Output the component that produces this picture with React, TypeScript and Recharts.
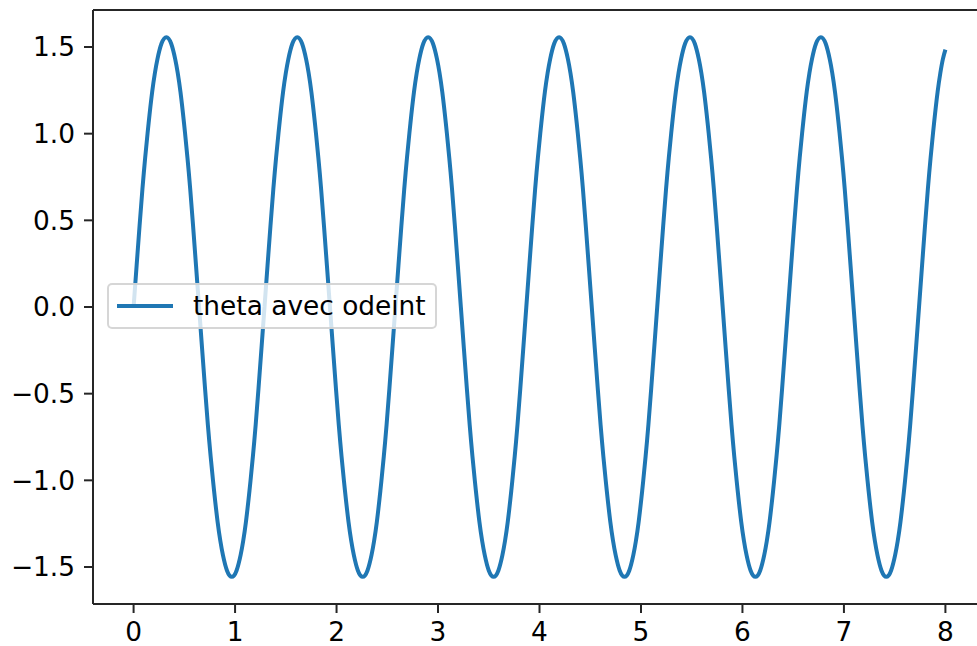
import React from "react";
import {
  LineChart,
  Line,
  XAxis,
  YAxis,
  Legend,
  ReferenceLine,
} from "recharts";

// angle theta (rad) against time (s)
// one row per half swing
const TIME = [
  0.0, 0.03, 0.059, 0.087, 0.114, 0.148, 0.183, 0.21, 0.235, 0.275, 0.323, 0.37, 0.41, 0.435, 0.462, 0.497, 0.531, 0.558, 0.586, 0.615,
  0.645, 0.675, 0.704, 0.732, 0.759, 0.793, 0.828, 0.855, 0.88, 0.92, 0.968, 1.015, 1.055, 1.08, 1.107, 1.142, 1.176, 1.203, 1.231, 1.26,
  1.29, 1.32, 1.349, 1.377, 1.404, 1.438, 1.473, 1.5, 1.525, 1.565, 1.613, 1.66, 1.7, 1.725, 1.752, 1.787, 1.821, 1.848, 1.876, 1.905,
  1.935, 1.965, 1.994, 2.022, 2.049, 2.083, 2.118, 2.145, 2.17, 2.21, 2.258, 2.305, 2.345, 2.37, 2.397, 2.432, 2.466, 2.493, 2.521, 2.55,
  2.58, 2.61, 2.639, 2.667, 2.694, 2.728, 2.763, 2.79, 2.815, 2.855, 2.903, 2.95, 2.99, 3.015, 3.042, 3.077, 3.111, 3.138, 3.166, 3.195,
  3.225, 3.255, 3.284, 3.312, 3.339, 3.373, 3.408, 3.435, 3.46, 3.5, 3.548, 3.595, 3.635, 3.66, 3.687, 3.722, 3.756, 3.783, 3.811, 3.84,
  3.87, 3.9, 3.929, 3.957, 3.984, 4.018, 4.053, 4.08, 4.105, 4.145, 4.193, 4.24, 4.28, 4.305, 4.332, 4.367, 4.401, 4.428, 4.456, 4.485,
  4.515, 4.545, 4.574, 4.602, 4.629, 4.663, 4.698, 4.725, 4.75, 4.79, 4.838, 4.885, 4.925, 4.95, 4.977, 5.012, 5.046, 5.073, 5.101, 5.13,
  5.16, 5.19, 5.219, 5.247, 5.274, 5.308, 5.343, 5.37, 5.395, 5.435, 5.483, 5.53, 5.57, 5.595, 5.622, 5.657, 5.691, 5.718, 5.746, 5.775,
  5.805, 5.835, 5.864, 5.892, 5.919, 5.953, 5.988, 6.015, 6.04, 6.08, 6.128, 6.175, 6.215, 6.24, 6.267, 6.302, 6.336, 6.363, 6.391, 6.42,
  6.45, 6.48, 6.509, 6.537, 6.564, 6.598, 6.633, 6.66, 6.685, 6.725, 6.773, 6.82, 6.86, 6.885, 6.912, 6.947, 6.981, 7.008, 7.036, 7.065,
  7.095, 7.125, 7.154, 7.182, 7.209, 7.243, 7.278, 7.305, 7.33, 7.37, 7.418, 7.465, 7.505, 7.53, 7.557, 7.592, 7.626, 7.653, 7.681, 7.71,
  7.74, 7.77, 7.799, 7.827, 7.854, 7.888, 7.923, 7.95, 7.975, 8.0,
];

const THETA = [
  0.0, 0.24, 0.47, 0.68, 0.86, 1.06, 1.24, 1.35, 1.43, 1.52, 1.557, 1.52, 1.43, 1.35, 1.24, 1.06, 0.86, 0.68, 0.47, 0.24,
  0.0, -0.24, -0.47, -0.68, -0.86, -1.06, -1.24, -1.35, -1.43, -1.52, -1.557, -1.52, -1.43, -1.35, -1.24, -1.06, -0.86, -0.68, -0.47, -0.24,
  0.0, 0.24, 0.47, 0.68, 0.86, 1.06, 1.24, 1.35, 1.43, 1.52, 1.557, 1.52, 1.43, 1.35, 1.24, 1.06, 0.86, 0.68, 0.47, 0.24,
  0.0, -0.24, -0.47, -0.68, -0.86, -1.06, -1.24, -1.35, -1.43, -1.52, -1.557, -1.52, -1.43, -1.35, -1.24, -1.06, -0.86, -0.68, -0.47, -0.24,
  0.0, 0.24, 0.47, 0.68, 0.86, 1.06, 1.24, 1.35, 1.43, 1.52, 1.557, 1.52, 1.43, 1.35, 1.24, 1.06, 0.86, 0.68, 0.47, 0.24,
  0.0, -0.24, -0.47, -0.68, -0.86, -1.06, -1.24, -1.35, -1.43, -1.52, -1.557, -1.52, -1.43, -1.35, -1.24, -1.06, -0.86, -0.68, -0.47, -0.24,
  0.0, 0.24, 0.47, 0.68, 0.86, 1.06, 1.24, 1.35, 1.43, 1.52, 1.557, 1.52, 1.43, 1.35, 1.24, 1.06, 0.86, 0.68, 0.47, 0.24,
  0.0, -0.24, -0.47, -0.68, -0.86, -1.06, -1.24, -1.35, -1.43, -1.52, -1.557, -1.52, -1.43, -1.35, -1.24, -1.06, -0.86, -0.68, -0.47, -0.24,
  0.0, 0.24, 0.47, 0.68, 0.86, 1.06, 1.24, 1.35, 1.43, 1.52, 1.557, 1.52, 1.43, 1.35, 1.24, 1.06, 0.86, 0.68, 0.47, 0.24,
  0.0, -0.24, -0.47, -0.68, -0.86, -1.06, -1.24, -1.35, -1.43, -1.52, -1.557, -1.52, -1.43, -1.35, -1.24, -1.06, -0.86, -0.68, -0.47, -0.24,
  0.0, 0.24, 0.47, 0.68, 0.86, 1.06, 1.24, 1.35, 1.43, 1.52, 1.557, 1.52, 1.43, 1.35, 1.24, 1.06, 0.86, 0.68, 0.47, 0.24,
  0.0, -0.24, -0.47, -0.68, -0.86, -1.06, -1.24, -1.35, -1.43, -1.52, -1.557, -1.52, -1.43, -1.35, -1.24, -1.06, -0.86, -0.68, -0.47, -0.24,
  0.0, 0.24, 0.47, 0.68, 0.86, 1.06, 1.24, 1.35, 1.43, 1.485,
];

const X_TICKS = [0, 1, 2, 3, 4, 5, 6, 7, 8];
const Y_TICKS = [-1.5, -1.0, -0.5, 0.0, 0.5, 1.0, 1.5];
const SERIES_NAME = "theta avec odeint";

const X_DOMAIN: [number, number] = [-0.4, 8.4];
const Y_DOMAIN: [number, number] = [-1.7135, 1.7135];

const BLUE = "#1f77b4";
const SPINE = "#262626";
const FONT = "DejaVu Sans, sans-serif";
const FONT_SIZE = 26.4;

const data = TIME.map((t, i) => ({ t, theta: THETA[i] }));

const fmtY = (v: number) => (v < 0 ? "\u2212" : "") + Math.abs(v).toFixed(1);

function LegendBox() {
  return (
    <div
      style={{
        boxSizing: "border-box",
        width: 330,
        height: 46,
        border: "2px solid rgba(204,204,204,0.8)",
        borderRadius: 5,
        background: "rgba(255,255,255,0.8)",
        display: "flex",
        alignItems: "center",
        paddingLeft: 8,
        fontFamily: FONT,
        fontSize: FONT_SIZE,
        color: "#000",
      }}
    >
      <svg width={56} height={6} style={{ flex: "none" }}>
        <line x1={0} y1={3} x2={56} y2={3} stroke={BLUE} strokeWidth={4} />
      </svg>
      <span style={{ marginLeft: 20, lineHeight: 1, whiteSpace: "nowrap" }}>
        {SERIES_NAME}
      </span>
    </div>
  );
}

export default function App() {
  const tick = { fontSize: FONT_SIZE, fill: "#000", fontFamily: FONT };
  return (
    <div
      style={{
        position: "fixed",
        left: 0,
        top: 0,
        width: 977,
        height: 646,
        overflow: "hidden",
        background: "#fff",
      }}
    >
      <LineChart
        width={990}
        height={646}
        data={data}
        margin={{ top: 10, right: 4, bottom: 0, left: 0 }}
      >
        <XAxis
          dataKey="t"
          type="number"
          domain={X_DOMAIN}
          allowDataOverflow
          ticks={X_TICKS}
          tick={tick}
          tickSize={9}
          tickMargin={9}
          height={42}
          axisLine={{ stroke: SPINE, strokeWidth: 2 }}
          tickLine={{ stroke: SPINE, strokeWidth: 2 }}
        />
        <YAxis
          type="number"
          domain={Y_DOMAIN}
          allowDataOverflow
          ticks={Y_TICKS}
          tickFormatter={fmtY}
          tick={tick}
          tickSize={9}
          tickMargin={9}
          width={93}
          axisLine={{ stroke: SPINE, strokeWidth: 2 }}
          tickLine={{ stroke: SPINE, strokeWidth: 2 }}
        />
        {/* top spine */}
        <ReferenceLine y={Y_DOMAIN[1]} stroke={SPINE} strokeWidth={2} />
        <Line
          type="natural"
          dataKey="theta"
          name={SERIES_NAME}
          stroke={BLUE}
          strokeWidth={4}
          dot={false}
          isAnimationActive={false}
        />
        <Legend
          layout="vertical"
          align="center"
          verticalAlign="middle"
          content={() => <LegendBox />}
          wrapperStyle={{ left: 107, top: 283, width: 330, height: 46 }}
        />
      </LineChart>
    </div>
  );
}
